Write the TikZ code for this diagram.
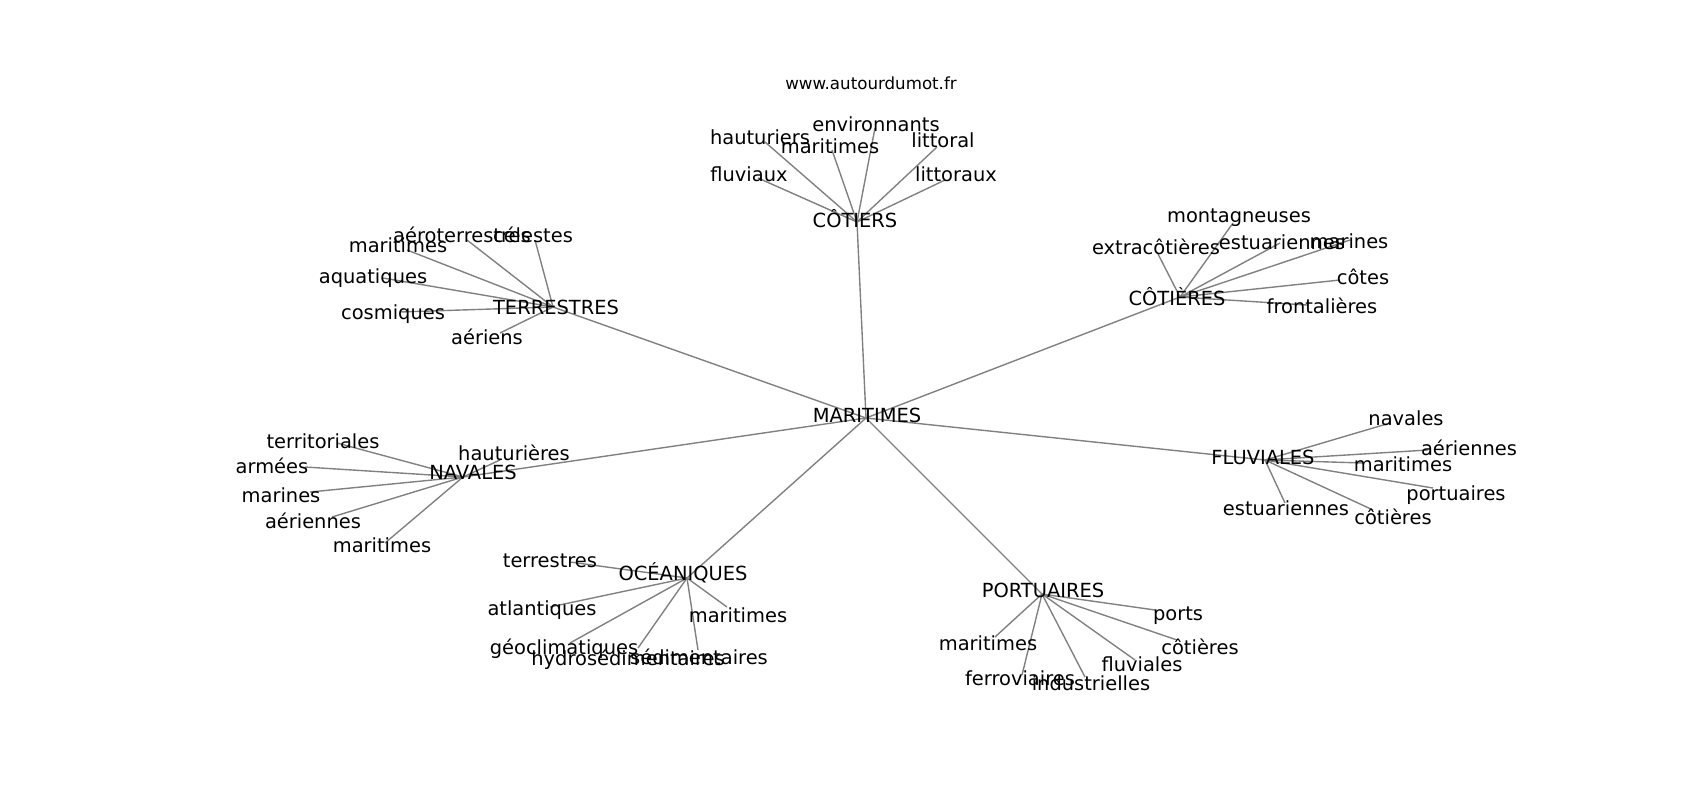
\documentclass[tikz,border=0pt]{standalone}
\usepackage{fontspec}
\setmainfont{DejaVu Sans}
\usetikzlibrary{backgrounds}
\begin{document}
\begin{tikzpicture}[font=\fontsize{14}{16}\selectfont, line join=round, line cap=round, x=0.72pt, y=-0.72pt]
\tikzset{edge/.style={draw=black!50, line width=1pt}, lbl/.style={inner sep=0pt, text height=0.76em, text depth=0.24em, yshift=-3pt}}
\useasboundingbox (0,0) rectangle (1700,800);
\node[inner sep=0pt, font=\fontsize{12}{14}\selectfont] (title) at (871,83) {www.autourdumot.fr};
\coordinate (root) at (866,418);
\node[lbl] (root-t) at (867,415) {MARITIMES};
% first ring
\foreach \n/\x/\y/\tx/\ty/\l in {cotiers/857/222/855/220/CÔTIERS, terrestres/553/307/556/307/TERRESTRES, cotieres/1180/297/1177/298/CÔTIÈRES, navales/463/477/473/472/NAVALES, fluviales/1265/460/1263/457/FLUVIALES, oceaniques/687/578/683/573/OCÉANIQUES, portuaires/1042/594/1043/590/PORTUAIRES}{
  \coordinate (\n) at (\x,\y);
  \begin{pgfonlayer}{background}\draw[edge] (root) -- (\n);\end{pgfonlayer}
  \node[lbl] (\n-t) at (\tx,\ty) {\l};
}
% leaves
\foreach \h/\x/\y/\tx/\ty/\l [count=\i] in {
  cotiers/765/142/760/137/hauturiers, cotiers/832/150/830/146/maritimes, cotiers/875/128/876/124/environnants,
  cotiers/937/147/943/140/littoral, cotiers/758/178/749/174/fluviaux, cotiers/945/180/956/174/littoraux,
  terrestres/535/240/533/235/célestes, terrestres/467/240/462/235/aéroterrestres, terrestres/407/250/398/245/maritimes,
  terrestres/383/278/373/276/aquatiques, terrestres/400/312/393/312/cosmiques, terrestres/500/333/487/337/aériens,
  cotieres/1233/223/1239/215/montagneuses, cotieres/1157/252/1156/247/extracôtières, cotieres/1280/243/1282/242/estuariennes,
  cotieres/1350/240/1349/241/marines, cotieres/1340/280/1363/277/côtes, cotieres/1307/305/1322/306/frontalières,
  navales/337/443/323/441/territoriales, navales/305/467/272/466/armées, navales/500/460/514/453/hauturières,
  navales/310/492/281/495/marines, navales/332/517/313/521/aériennes, navales/385/543/382/545/maritimes,
  fluviales/1390/423/1406/418/navales, fluviales/1428/450/1469/448/aériennes, fluviales/1363/463/1403/464/maritimes,
  fluviales/1433/488/1456/493/portuaires, fluviales/1285/503/1286/508/estuariennes, fluviales/1373/510/1393/517/côtières,
  oceaniques/570/562/550/560/terrestres, oceaniques/550/607/542/608/atlantiques, oceaniques/727/607/738/615/maritimes,
  oceaniques/570/643/564/647/géoclimatiques, oceaniques/638/648/628/658/hydrosédimentaires, oceaniques/698/650/699/657/sédimentaires,
  portuaires/1155/610/1178/613/ports, portuaires/995/637/988/643/maritimes, portuaires/1177/640/1200/647/côtières,
  portuaires/1135/660/1142/664/fluviales, portuaires/1022/675/1020/678/ferroviaires, portuaires/1085/677/1091/683/industrielles}{
  \coordinate (leaf\i) at (\x,\y);
  \begin{pgfonlayer}{background}\draw[edge] (\h) -- (leaf\i);\end{pgfonlayer}
  \node[lbl] (leaf\i-t) at (\tx,\ty) {\l};
}
\end{tikzpicture}
\end{document}
